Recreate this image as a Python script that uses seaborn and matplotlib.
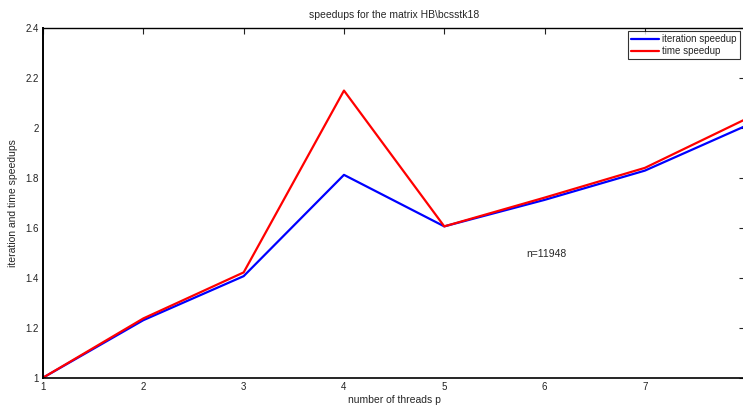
import pandas as pd
import matplotlib
matplotlib.use("Agg")
import matplotlib.pyplot as plt
import seaborn as sns

# data
threads = [1, 2, 3, 4, 5, 6, 7, 8]
iteration_speedup = [1.0, 1.230, 1.406, 1.811, 1.605, 1.711, 1.828, 2.006]
time_speedup = [1.0, 1.237, 1.421, 2.148, 1.605, 1.720, 1.839, 2.033]

df = pd.DataFrame({
    "threads": threads * 2,
    "speedup": iteration_speedup + time_speedup,
    "series": ["iteration speedup"] * len(threads) + ["time speedup"] * len(threads),
})

sns.set_style("white")
plt.rcParams["font.family"] = ["Liberation Sans", "DejaVu Sans"]
plt.rcParams["xtick.direction"] = "in"
plt.rcParams["ytick.direction"] = "in"

fig = plt.figure(figsize=(7.43, 4.05), dpi=100)
ax = fig.add_axes([0.0579, 0.0674, 0.9451, 0.8646])

sns.lineplot(data=df, x="threads", y="speedup", hue="series",
             palette={"iteration speedup": "#0000ff", "time speedup": "#ff0000"},
             linewidth=1.6, ax=ax)

ax.set_xlim(1, 8)
ax.set_ylim(1, 2.4)
ax.set_xticks([1, 2, 3, 4, 5, 6, 7])
ax.set_yticks([1, 1.2, 1.4, 1.6, 1.8, 2, 2.2, 2.4])
ax.set_yticklabels(["1", "1.2", "1.4", "1.6", "1.8", "2", "2.2", "2.4"])
ax.tick_params(axis="both", labelsize=7, length=4, width=0.8,
               top=True, right=True, pad=3, colors="#222222", labelcolor="#222222")
for s in ax.spines.values():
    s.set_linewidth(1.0)
    s.set_color("black")
ax.spines["left"].set_linewidth(1.4)
ax.spines["bottom"].set_linewidth(1.2)

ax.set_title("speedups for the matrix HB\\bcsstk18", fontsize=7.5, pad=7)
ax.set_xlabel("number of threads p", fontsize=7.5, labelpad=2)
ax.set_ylabel("iteration and time speedups", fontsize=7.5, labelpad=5)
ax.text(5.82, 1.495, "n=11948", fontsize=7.5, va="center")

leg = ax.legend(loc="upper right", bbox_to_anchor=(0.995, 0.995), fontsize=7,
                frameon=True, fancybox=False, edgecolor="black",
                handlelength=2.9, handletextpad=0.35, borderpad=0.3,
                labelspacing=0.2, borderaxespad=0.2)
leg.get_frame().set_linewidth(0.8)
for line in leg.get_lines():
    line.set_linewidth(1.6)

fig.savefig("out.png", dpi=100)
